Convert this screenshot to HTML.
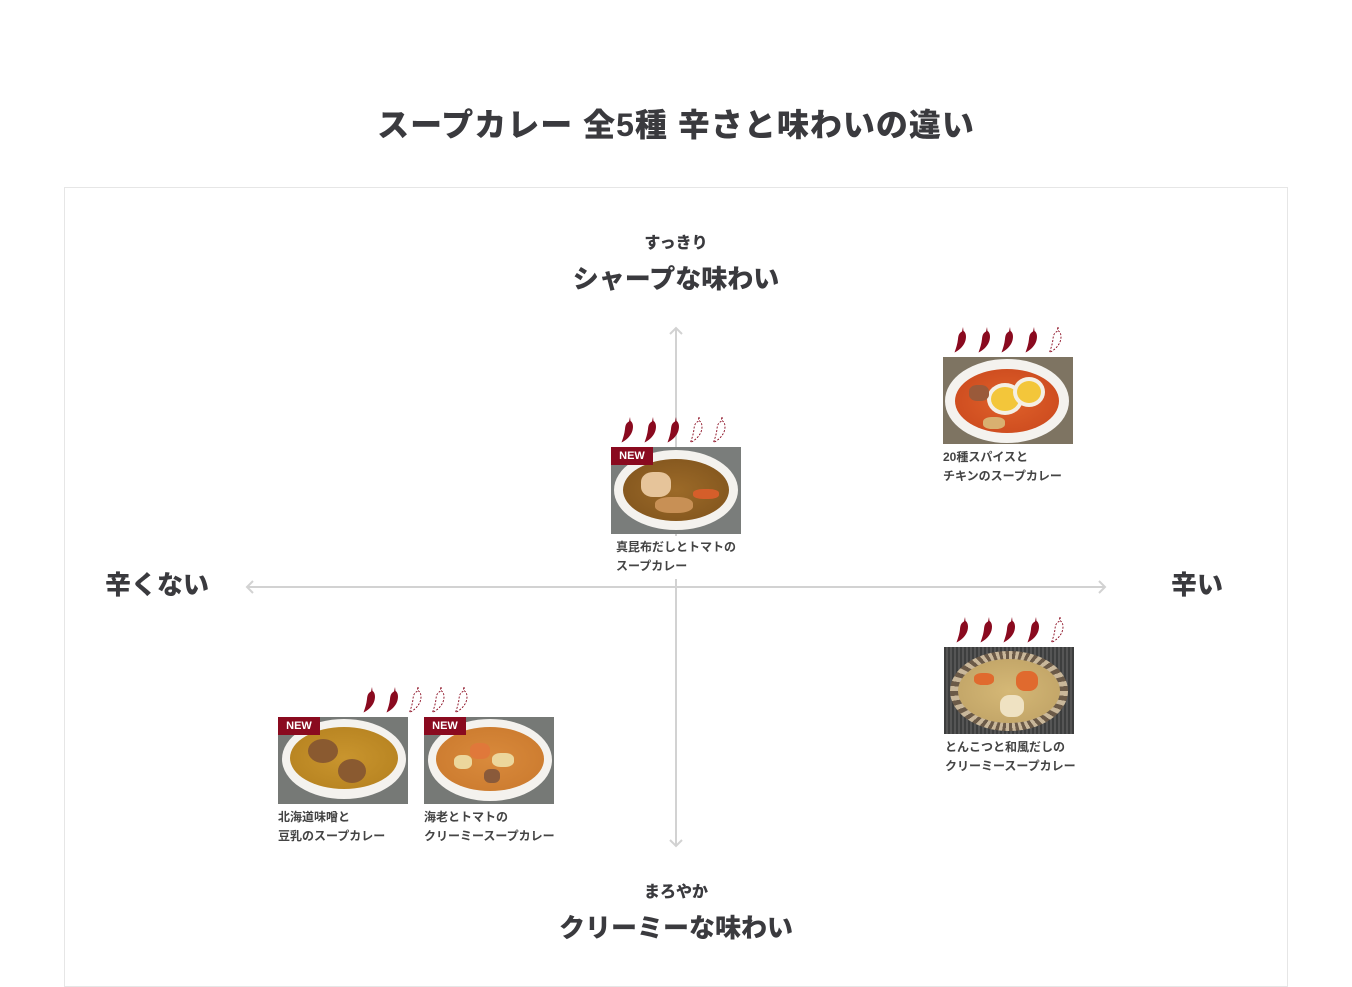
<!DOCTYPE html>
<html><head><meta charset="utf-8">
<style>
*{margin:0;padding:0;box-sizing:border-box}
body{width:1352px;height:987px;background:#fff;position:relative;overflow:hidden;font-family:"Liberation Sans","Noto Sans CJK JP",sans-serif;color:#3a3a3e}
.a{position:absolute}
.t{font-weight:900;white-space:nowrap}
.panel{left:64px;top:187px;width:1224px;height:800px;border:1px solid #e6e6e6}
.img{position:absolute;width:130px;height:87px;overflow:hidden;background:#6d6f6d}
.bowl{position:absolute;border-radius:50%;background:#f4f2ee}
.soup{position:absolute;border-radius:50%}
.new{position:absolute;left:0;top:0;width:42px;height:18px;background:#8a0a1f;color:#fff;font-size:11px;font-weight:bold;text-align:center;line-height:18px}
.lbl{position:absolute;font-size:12px;font-weight:bold;color:#444;line-height:19px;white-space:nowrap;background:#fff}
.blob{position:absolute;border-radius:40%}
</style></head><body>
<div class="a t" style="left:0;width:1352px;top:100px;text-align:center;font-size:32px;letter-spacing:1px">スープカレー 全5種 辛さと味わいの違い</div>
<div class="a panel"></div>

<svg class="a" style="left:0;top:0" width="1352" height="987">
<g stroke="#d2d2d2" stroke-width="2" fill="none">
<line x1="676" y1="328" x2="676" y2="846"/>
<line x1="247" y1="587" x2="1105" y2="587"/>
<polyline points="670,334 676,328 682,334"/>
<polyline points="670,840 676,846 682,840"/>
<polyline points="253,581 247,587 253,593"/>
<polyline points="1099,581 1105,587 1099,593"/>
</g>
<defs>
<path id="cf" d="M10 0 L10.5 4 C14 6 13.5 13 11 17 C9 20.5 5.5 23.5 1.5 25.5 C3 21 4.5 17 5 12 C5.3 8.5 6 6 9 4.5 Z"/>
</defs>
</svg>

<div class="a t" style="left:0;width:1352px;top:229px;text-align:center;font-size:16px">すっきり</div>
<div class="a t" style="left:0;width:1352px;top:259px;text-align:center;font-size:26px">シャープな味わい</div>
<div class="a t" style="left:0;width:1352px;top:878px;text-align:center;font-size:16px">まろやか</div>
<div class="a t" style="left:0;width:1352px;top:908px;text-align:center;font-size:26px">クリーミーな味わい</div>
<div class="a t" style="left:105px;top:565px;font-size:26px">辛くない</div>
<div class="a t" style="left:1171px;top:565px;font-size:26px">辛い</div>

<svg class="a" style="left:620px;top:417px" width="120" height="27">
<use href="#cf" x="0" fill="#8a0a1f"/><use href="#cf" x="23" fill="#8a0a1f"/><use href="#cf" x="46" fill="#8a0a1f"/>
<use href="#cf" x="69" fill="none" stroke="#8a0a1f" stroke-width="0.9" stroke-dasharray="2 1.5"/><use href="#cf" x="92" fill="none" stroke="#8a0a1f" stroke-width="0.9" stroke-dasharray="2 1.5"/>
</svg>
<svg class="a" style="left:953px;top:327px" width="120" height="27">
<use href="#cf" x="0" fill="#8a0a1f"/><use href="#cf" x="24" fill="#8a0a1f"/><use href="#cf" x="47" fill="#8a0a1f"/><use href="#cf" x="71" fill="#8a0a1f"/>
<use href="#cf" x="95" fill="none" stroke="#8a0a1f" stroke-width="0.9" stroke-dasharray="2 1.5"/>
</svg>
<svg class="a" style="left:955px;top:617px" width="120" height="27">
<use href="#cf" x="0" fill="#8a0a1f"/><use href="#cf" x="24" fill="#8a0a1f"/><use href="#cf" x="47" fill="#8a0a1f"/><use href="#cf" x="71" fill="#8a0a1f"/>
<use href="#cf" x="95" fill="none" stroke="#8a0a1f" stroke-width="0.9" stroke-dasharray="2 1.5"/>
</svg>
<svg class="a" style="left:362px;top:687px" width="120" height="27">
<use href="#cf" x="0" fill="#8a0a1f"/><use href="#cf" x="23" fill="#8a0a1f"/>
<use href="#cf" x="46" fill="none" stroke="#8a0a1f" stroke-width="0.9" stroke-dasharray="2 1.5"/><use href="#cf" x="69" fill="none" stroke="#8a0a1f" stroke-width="0.9" stroke-dasharray="2 1.5"/><use href="#cf" x="92" fill="none" stroke="#8a0a1f" stroke-width="0.9" stroke-dasharray="2 1.5"/>
</svg>

<div class="img" style="left:611px;top:447px;background:#7a7d7b">
<div class="bowl" style="left:3px;top:3px;width:124px;height:80px"></div>
<div class="soup" style="left:12px;top:12px;width:106px;height:62px;background:radial-gradient(#9c6a28,#7e521c)"></div>
<div class="blob" style="left:30px;top:25px;width:30px;height:25px;background:#e6c49a"></div>
<div class="blob" style="left:44px;top:50px;width:38px;height:16px;background:#c89055"></div>
<div class="blob" style="left:82px;top:42px;width:26px;height:10px;background:#d55e2a"></div>
<div class="new">NEW</div>
</div>
<div class="lbl" style="left:611px;top:536px;padding:2px 5px 3px;">真昆布だしとトマトの<br>スープカレー</div>

<div class="img" style="left:943px;top:357px;background:#7e7462">
<div class="bowl" style="left:2px;top:2px;width:124px;height:84px"></div>
<div class="soup" style="left:12px;top:12px;width:104px;height:64px;background:radial-gradient(#e0612a,#c8461c)"></div>
<div class="blob" style="left:48px;top:30px;width:28px;height:24px;background:#f3c63a;border-radius:50%;box-shadow:0 0 0 4px #f4efe4"></div>
<div class="blob" style="left:74px;top:24px;width:24px;height:22px;background:#f3c63a;border-radius:50%;box-shadow:0 0 0 4px #f4efe4"></div>
<div class="blob" style="left:26px;top:28px;width:20px;height:16px;background:#9a5a3a"></div>
<div class="blob" style="left:40px;top:60px;width:22px;height:12px;background:#d9b070"></div>
</div>
<div class="lbl" style="left:943px;top:448px">20種スパイスと<br>チキンのスープカレー</div>

<div class="img" style="left:944px;top:647px;background:repeating-linear-gradient(90deg,#3d3e3e 0 2px,#555 2px 4px)">
<div class="bowl" style="left:6px;top:4px;width:118px;height:80px;background:repeating-conic-gradient(#c9b79a 0 5deg,#6b5a48 5deg 10deg)"></div>
<div class="soup" style="left:14px;top:12px;width:102px;height:64px;background:radial-gradient(#d5b876,#bda064)"></div>
<div class="blob" style="left:30px;top:26px;width:20px;height:12px;background:#e06a2e"></div>
<div class="blob" style="left:72px;top:24px;width:22px;height:20px;background:#e06a2e"></div>
<div class="blob" style="left:56px;top:48px;width:24px;height:22px;background:#efe2c2"></div>
</div>
<div class="lbl" style="left:945px;top:738px">とんこつと和風だしの<br>クリーミースープカレー</div>

<div class="img" style="left:278px;top:717px;background:#767976">
<div class="bowl" style="left:4px;top:2px;width:124px;height:80px"></div>
<div class="soup" style="left:12px;top:10px;width:108px;height:62px;background:radial-gradient(#c9952e,#b37f1e)"></div>
<div class="blob" style="left:30px;top:22px;width:30px;height:24px;background:#8a5a30;border-radius:50%"></div>
<div class="blob" style="left:60px;top:42px;width:28px;height:24px;background:#8a5a30;border-radius:50%"></div>
<div class="new">NEW</div>
</div>
<div class="lbl" style="left:278px;top:808px">北海道味噌と<br>豆乳のスープカレー</div>

<div class="img" style="left:424px;top:717px;background:#767976">
<div class="bowl" style="left:4px;top:2px;width:124px;height:82px"></div>
<div class="soup" style="left:12px;top:10px;width:108px;height:64px;background:radial-gradient(#d98a3c,#c9782c)"></div>
<div class="blob" style="left:46px;top:26px;width:20px;height:16px;background:#e0783a"></div>
<div class="blob" style="left:30px;top:38px;width:18px;height:14px;background:#ecd79c"></div>
<div class="blob" style="left:68px;top:36px;width:22px;height:14px;background:#ecd79c"></div>
<div class="blob" style="left:60px;top:52px;width:16px;height:14px;background:#8a5a3a"></div>
<div class="new">NEW</div>
</div>
<div class="lbl" style="left:424px;top:808px">海老とトマトの<br>クリーミースープカレー</div>
</body></html>
